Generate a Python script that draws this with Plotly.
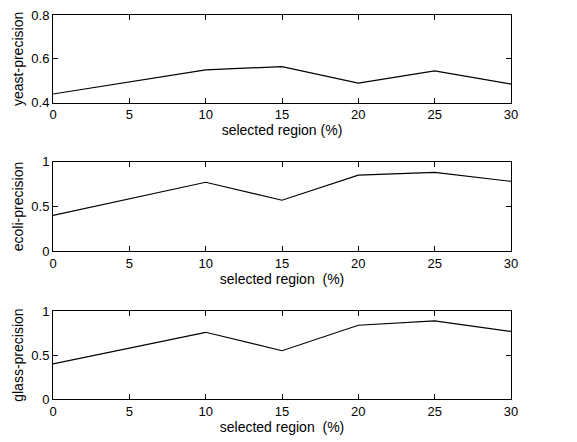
import plotly.graph_objects as go

x_vals = [0, 10, 15, 20, 25, 30]
yeast = [0.44, 0.55, 0.565, 0.49, 0.545, 0.485]
ecoli = [0.40, 0.77, 0.57, 0.85, 0.88, 0.78]
glass = [0.40, 0.76, 0.55, 0.84, 0.89, 0.77]
y_titles = ["yeast-precision", "ecoli-precision", "glass-precision"]
x_titles = ["selected region (%)", "selected region  (%)", "selected region  (%)"]
y_ranges = [[0.4, 0.8], [0, 1], [0, 1]]
y_ticks = [[0.4, 0.6, 0.8], [0, 0.5, 1], [0, 0.5, 1]]
x_ticks = [0, 5, 10, 15, 20, 25, 30]

series = [yeast, ecoli, glass]
domains = [[0.7714, 1.0], [0.3844, 0.6182], [0.0, 0.2286]]

fig = go.Figure()
font = dict(family="Liberation Sans, Arial, sans-serif", size=14, color="black")
tickfont = dict(family="Liberation Sans, Arial, sans-serif", size=13, color="black")
layout = dict(
    width=569, height=434,
    margin=dict(l=45, r=66, t=7, b=43),
    paper_bgcolor="white", plot_bgcolor="white",
    showlegend=False, font=font,
)
for i, s in enumerate(series):
    n = "" if i == 0 else str(i + 1)
    fig.add_trace(go.Scatter(x=x_vals, y=s, mode="lines",
                             line=dict(color="black", width=1.2),
                             xaxis="x" + n, yaxis="y" + n))
    axcommon = dict(showline=True, linecolor="black", linewidth=1, mirror="ticks",
                    ticks="inside", ticklen=5, tickcolor="black", showgrid=False,
                    zeroline=False, tickfont=tickfont, automargin=False,
                    ticklabeloverflow="allow")
    layout["xaxis" + n] = dict(axcommon, domain=[0, 1], range=[0, 30], tickvals=x_ticks,
                              anchor="y" + n,
                              title=dict(text=x_titles[i], font=font, standoff=2))
    layout["yaxis" + n] = dict(axcommon, domain=domains[i], range=y_ranges[i],
                              tickvals=y_ticks[i], anchor="x" + n,
                              title=dict(text=y_titles[i], font=font, standoff=4))
fig.update_layout(**layout)
fig.write_html("out.html")
